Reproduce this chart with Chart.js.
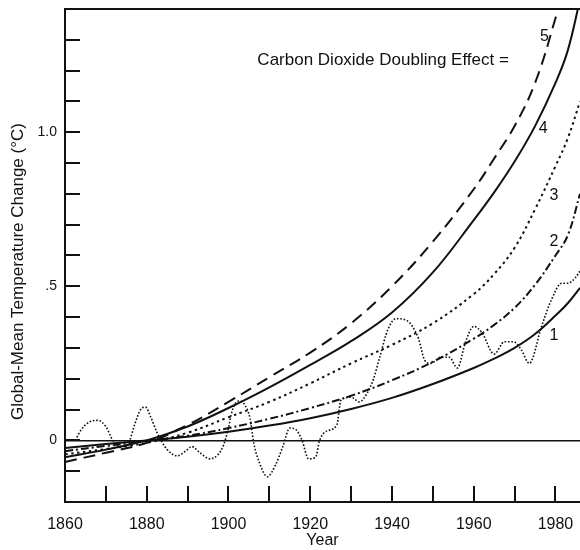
<!DOCTYPE html>
<html><head><meta charset="utf-8">
<script src="https://cdn.jsdelivr.net/npm/chart.js@4"></script>
<style>html,body{margin:0;padding:0;background:#fff}#wrap{width:580px;height:550px}</style>
</head><body><div id="wrap"><canvas id="c" width="580" height="550"></canvas></div>
<script>
// ---- data ----
const curveYears = [1860,1870,1880,1890,1900,1910,1920,1930,1940,1950,1960,1965,1970,1975,1980,1983,1986];
const curve1 = [-0.025,-0.012,0.0,0.012,0.028,0.048,0.072,0.102,0.138,0.183,0.235,0.265,0.30,0.345,0.405,0.445,0.495];
const curve2 = [-0.035,-0.018,-0.003,0.015,0.04,0.07,0.105,0.145,0.195,0.255,0.33,0.375,0.43,0.505,0.60,0.665,0.80];
const curve3 = [-0.045,-0.028,-0.008,0.025,0.075,0.125,0.185,0.25,0.31,0.38,0.475,0.54,0.625,0.75,0.89,0.98,1.10];
const curve4 = [-0.055,-0.03,0.0,0.045,0.105,0.172,0.245,0.322,0.415,0.545,0.715,0.805,0.905,1.02,1.16,1.265,1.43];
const curve5 = [-0.07,-0.04,-0.008,0.05,0.125,0.205,0.285,0.38,0.50,0.645,0.815,0.915,1.02,1.16,1.37,1.52,1.70];
const obsYears = [1862.5,1864,1866,1868,1870,1871.7,1873.5,1875.5,1877,1878.5,1879.7,1881,1882.5,1885,1887.5,1889.5,1891,1893,1895.5,1897.5,1898.8,1899.8,1901,1902.5,1904,1905.3,1906.2,1907.5,1909.5,1911.5,1913.3,1915,1916.5,1918,1919.6,1921.3,1922.3,1924,1926.5,1927.5,1930,1932,1934,1935.5,1937,1939,1941,1943.5,1945,1946.5,1948,1949.5,1952,1954,1956,1958,1960,1962,1965,1967.5,1969.7,1971.6,1973.6,1976.6,1979,1981.5,1983,1985,1986];
const obsValues = [0.0,0.035,0.06,0.065,0.045,0.0,-0.02,-0.01,0.05,0.1,0.108,0.075,0.026,-0.03,-0.05,-0.035,-0.02,-0.04,-0.06,-0.045,-0.015,0.03,0.1,0.128,0.115,0.07,-0.01,-0.07,-0.118,-0.08,-0.02,0.04,0.035,0.0,-0.06,-0.055,0.0,0.03,0.05,0.13,0.14,0.125,0.155,0.2,0.27,0.36,0.395,0.39,0.37,0.33,0.26,0.25,0.27,0.27,0.235,0.32,0.37,0.35,0.28,0.32,0.32,0.295,0.25,0.37,0.456,0.51,0.51,0.53,0.55];
const xLabelYears = [1860,1880,1900,1920,1940,1960,1980];
const xTickYears = [1870,1880,1890,1900,1910,1920,1930,1940,1950,1960,1970,1980];
const yTickValues = [-0.1,0,0.1,0.2,0.3,0.4,0.5,0.6,0.7,0.8,0.9,1.0,1.1,1.2,1.3];
const yLabelValues = [0, 0.5, 1.0];
const yLabelTexts = ['0', '.5', '1.0'];
const curveNames = ['1','2','3','4','5'];
const yTitle = 'Global-Mean Temperature Change (\u00B0C)';
const xTitle = 'Year';
const noteText = 'Carbon Dioxide Doubling Effect =';

// ---- annotation anchors (data coords) ----
const curveLabelAt = [[1979.6,0.34],[1979.6,0.645],[1979.6,0.795],[1977.0,1.012],[1977.3,1.31]];
const noteAt = [1968.6, 1.235];

const pts = (xs, ys) => xs.map((v,i)=>({x:v, y:ys[i]}));
const FONT = '"Liberation Sans", Arial, sans-serif';
const INK = '#111';

const decor = {
  id:'decor',
  afterDraw(chart){
    const {ctx, chartArea:a, scales:{x,y}} = chart;
    ctx.save();
    ctx.strokeStyle = INK; ctx.lineWidth = 2; ctx.lineCap='butt';
    ctx.beginPath(); ctx.moveTo(a.left-1, a.top); ctx.lineTo(a.right, a.top); ctx.stroke();
    yTickValues.forEach(v=>{const p=Math.round(y.getPixelForValue(v)); ctx.beginPath(); ctx.moveTo(a.left, p); ctx.lineTo(a.left+15, p); ctx.stroke();});
    xTickYears.forEach(v=>{const p=Math.round(x.getPixelForValue(v)); ctx.beginPath(); ctx.moveTo(p, a.bottom); ctx.lineTo(p, a.bottom-16); ctx.stroke();});
    ctx.fillStyle = INK;
    // y title
    ctx.save();
    ctx.font = '17px ' + FONT; ctx.textAlign='center'; ctx.textBaseline='middle';
    ctx.translate(18, (a.top+a.bottom)/2 + 16); ctx.rotate(-Math.PI/2);
    ctx.fillText(yTitle, 0, 0);
    ctx.restore();
    // note
    ctx.font = '17px ' + FONT; ctx.textAlign='right'; ctx.textBaseline='middle';
    ctx.fillText(noteText, x.getPixelForValue(noteAt[0]), y.getPixelForValue(noteAt[1]));
    ctx.font = '16px ' + FONT; ctx.textAlign='center';
    curveNames.forEach((n,i)=>{
      ctx.fillText(n, x.getPixelForValue(curveLabelAt[i][0]), y.getPixelForValue(curveLabelAt[i][1]));
    });
    ctx.restore();
  }
};

const lineDs = (label, data, dash, width, mono) => ({
  label, data, borderColor: INK, borderWidth: width, borderDash: dash,
  pointRadius: 0, fill: false, borderCapStyle:'butt',
  cubicInterpolationMode: mono ? 'monotone' : 'default', tension: 0.4
});

new Chart(document.getElementById('c'), {
  type: 'line',
  data: {
    datasets: [
      lineDs('Observed', pts(obsYears, obsValues), [1.6, 1.8], 1.6, true),
      lineDs(curveNames[0], pts(curveYears, curve1), [], 2, false),
      lineDs(curveNames[1], pts(curveYears, curve2), [8, 3, 2, 3], 2, false),
      lineDs(curveNames[2], pts(curveYears, curve3), [2.5, 3.5], 2, false),
      lineDs(curveNames[3], pts(curveYears, curve4), [], 2, false),
      lineDs(curveNames[4], pts(curveYears, curve5), [12, 7], 2, false),
    ]
  },
  options: {
    responsive: false, animation: false, devicePixelRatio: 1,
    layout: { padding: { top: 9, right: 0, left: 0, bottom: 0 } },
    plugins: { legend: { display: false }, tooltip: { enabled: false } },
    scales: {
      x: {
        type: 'linear', position: 'bottom', min: 1860, max: 1986,
        afterBuildTicks: s => { s.ticks = xLabelYears.map(v => ({ value: v })); },
        afterFit: s => { s.height = 48; s.paddingLeft = 0; s.paddingRight = 0; },
        grid: { display: false },
        border: { display: true, color: INK, width: 2 },
        ticks: { color: INK, font: { family: FONT, size: 16 }, padding: 5, maxRotation: 0, autoSkip: false, callback: v => String(v) },
        title: { display: true, text: xTitle, color: INK, font: { family: FONT, size: 16 }, padding: { top: 0, bottom: 0 } }
      },
      y: {
        type: 'linear', position: 'left', min: -0.2, max: 1.4,
        afterBuildTicks: s => { s.ticks = yLabelValues.map(v => ({ value: v })); },
        afterFit: s => { s.width = 65; s.paddingTop = 0; s.paddingBottom = 0; },
        grid: { display: true, drawTicks: false, lineWidth: 1.5,
          color: c => (c.tick && Math.abs(c.tick.value) < 1e-9) ? INK : 'rgba(0,0,0,0)' },
        border: { display: true, color: INK, width: 2 },
        ticks: { color: INK, font: { family: FONT, size: 14 }, padding: 8,
          callback: v => { const i = yLabelValues.findIndex(t => Math.abs(t - v) < 1e-9); return i >= 0 ? yLabelTexts[i] : ''; } },
        title: { display: false }
      }
    }
  },
  plugins: [decor]
});
</script>
</body></html>
